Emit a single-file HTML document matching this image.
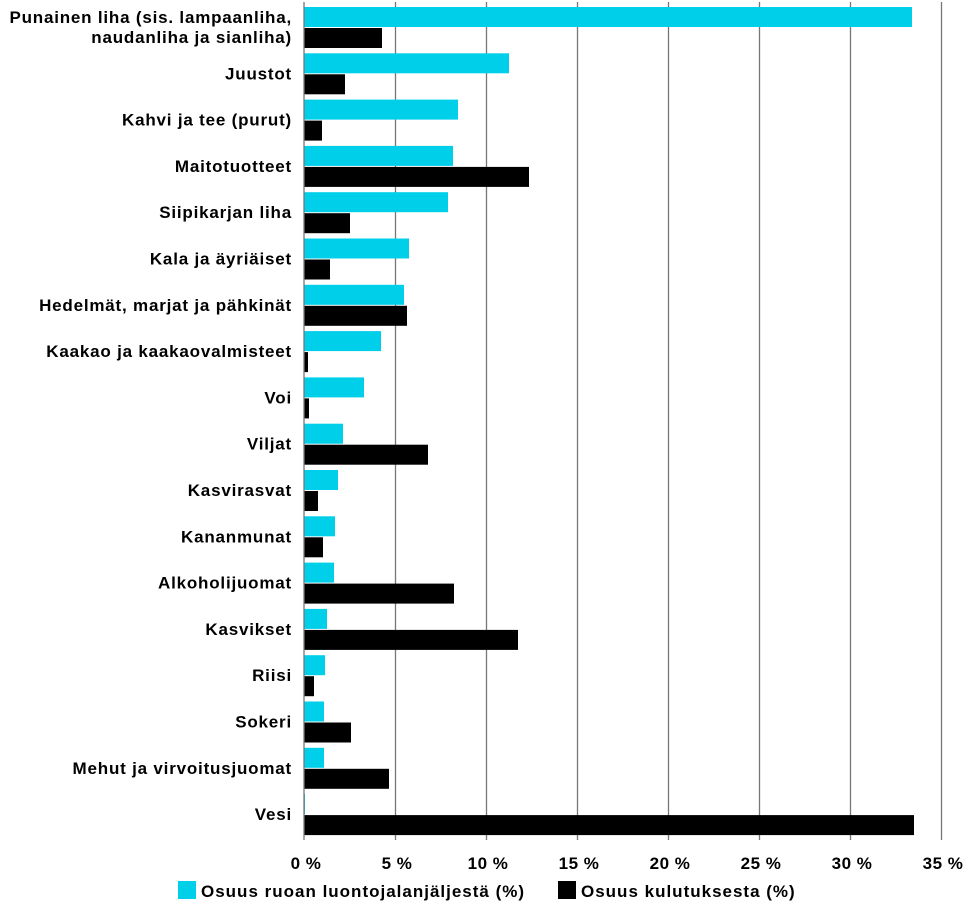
<!DOCTYPE html><html><head><meta charset="utf-8"><style>
body{margin:0;background:#fff;width:975px;height:910px;overflow:hidden;font-family:"Liberation Sans",sans-serif}
</style></head><body>
<svg width="975" height="910" xmlns="http://www.w3.org/2000/svg" font-family="Liberation Sans, sans-serif">
<g stroke="#777" stroke-width="1.3">
<line x1="395.5" y1="2" x2="395.5" y2="840"/><line x1="486.5" y1="2" x2="486.5" y2="840"/><line x1="577.5" y1="2" x2="577.5" y2="840"/><line x1="668.5" y1="2" x2="668.5" y2="840"/><line x1="759.5" y1="2" x2="759.5" y2="840"/><line x1="850.5" y1="2" x2="850.5" y2="840"/><line x1="941.5" y1="2" x2="941.5" y2="840"/>
</g>
<g id="bars"></g>
<line x1="304" y1="2" x2="304" y2="840" stroke="#777" stroke-width="1.3"/>
<g font-size="17" fill="#000" text-anchor="middle" font-weight="bold" letter-spacing="0.5">
<text x="306" y="869">0 %</text><text x="397" y="869">5 %</text><text x="488" y="869">10 %</text><text x="579" y="869">15 %</text><text x="670" y="869">20 %</text><text x="761" y="869">25 %</text><text x="852" y="869">30 %</text><text x="943" y="869">35 %</text>
</g>
<rect x="178" y="881" width="18" height="18" fill="#00cfea"/>
<text x="201" y="897" font-size="17" font-weight="bold" letter-spacing="1">Osuus ruoan luontojalanjäljestä (%)</text>
<rect x="558" y="881" width="18" height="18" fill="#000"/>
<text x="581" y="897" font-size="17" font-weight="bold" letter-spacing="1">Osuus kulutuksesta (%)</text>
<g font-size="17" font-weight="bold" text-anchor="end" letter-spacing="0.8">
<text x="292" y="23">Punainen liha (sis. lampaanliha,</text><text x="292" y="43">naudanliha ja sianliha)</text>
</g>
<script>
var d=[["",912,382],["Juustot",509,345],["Kahvi ja tee (purut)",458,322],["Maitotuotteet",453,529],["Siipikarjan liha",448,350],["Kala ja äyriäiset",409,330],["Hedelmät, marjat ja pähkinät",404,407],["Kaakao ja kaakaovalmisteet",381,308],["Voi",364,309],["Viljat",343,428],["Kasvirasvat",338,318],["Kananmunat",335,323],["Alkoholijuomat",334,454],["Kasvikset",327,518],["Riisi",325,314],["Sokeri",324,351],["Mehut ja virvoitusjuomat",324,389],["Vesi",305,914]];
var ns="http://www.w3.org/2000/svg",g=document.getElementById("bars"),s=document.querySelector("svg");
d.forEach(function(r,i){var y=7+i*46.3;
function R(x2,yy,c){var e=document.createElementNS(ns,"rect");e.setAttribute("x",304);e.setAttribute("y",yy);e.setAttribute("width",x2-304);e.setAttribute("height",20);e.setAttribute("fill",c);g.appendChild(e);}
R(r[1],y,"#00cfea");R(r[2],y+21,"#000");
if(r[0]){var t=document.createElementNS(ns,"text");t.setAttribute("x",292);t.setAttribute("y",y+26);t.setAttribute("text-anchor","end");t.setAttribute("font-size","17");t.setAttribute("font-weight","bold");t.setAttribute("letter-spacing","0.8");t.textContent=r[0];s.appendChild(t);}
});
</script>
</svg>
</body></html>
